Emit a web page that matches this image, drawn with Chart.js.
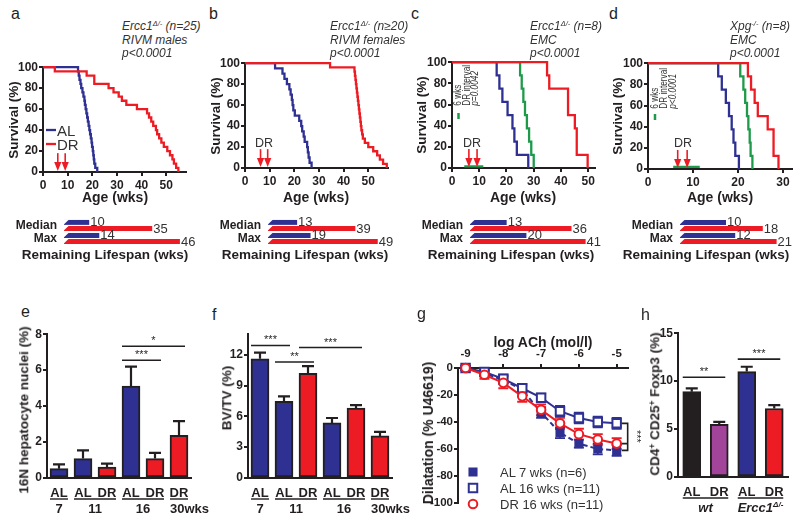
<!DOCTYPE html>
<html><head><meta charset="utf-8">
<script src="https://cdn.jsdelivr.net/npm/chart.js"></script>
<style>
html,body{margin:0;padding:0;background:#fff;}
body{width:800px;height:523px;position:relative;overflow:hidden;font-family:"Liberation Sans",Arial,sans-serif;color:#231f20;}
canvas{position:absolute;}
.t{position:absolute;white-space:nowrap;line-height:1;}
.t sup{font-size:62%;line-height:0;vertical-align:0.5em;}
</style></head><body>
<script>
// ================= DATA =================
const survTicksY = [0, 20, 40, 60, 80, 100];
const survTicksX50 = [0, 10, 20, 30, 40, 50];
const survTicksX30 = [0, 10, 20, 30];
const steps25 = [100,96,92,88,84,80,76,72,68,64,60,56,52,48,44,40,36,32,28,24,20,16,12,8,4,0];
const steps20 = [100,95,90,85,80,75,70,65,60,55,50,45,40,35,30,25,20,15,10,5,0];
const steps8  = [100,87.5,75,62.5,50,37.5,25,12.5,0];

// a: Ercc1 RIVM males
const aALWeeks = [0,14.2,14.5,14.8,15.2,15.5,16,16.4,16.8,17,17.3,17.6,17.9,18.2,18.5,18.8,19.1,19.4,19.7,19.9,20.2,20.4,20.6,20.8,21.2,22];
const aALSurv  = steps25;
const aDRWeeks = [0,4.8,17.7,20.8,20.8,26.6,28.6,30.7,32,33.8,38.1,42.2,43,43.9,44.7,45.8,46.3,47.1,48,49,50.4,51.5,52.5,53.1,54,54.9];
const aDRSurv  = steps25;
const aArrows  = [6, 9];
// b: Ercc1 RIVM females
const bALWeeks = [0,12.2,15.2,16,17,18,18.5,19,19.3,19.6,20.2,22,22.8,23.2,23.8,24.2,25.2,25.5,25.8,26.2,27];
const bALSurv  = steps20;
const bDRWeeks = [0,34.5,44.4,44.6,44.8,45,45.2,45.4,45.6,45.8,46,46.2,46.4,46.6,46.8,47,47.2,47.5,47.8,48.6,50,52,53.6,54.7,56,57.5];
const bDRSurv  = steps25;
const bArrows  = [6.3, 9.2];
// c: Ercc1 EMC
const cALWeeks = [0,16.4,17.4,18.5,20.4,22.2,22.9,23.8,28];
const cGRWeeks = [0,25,25.6,26.2,26.8,27.5,28.3,29.1,30];
const cDRWeeks = [0,34.9,35.7,42.6,42.6,45.1,45.8,45.8,49.8];
const cSurv    = steps8;
const cIntervalWeeks = [4.5, 11.5];
const cIntervalLevel = [1.5, 1.5];
const cArrows  = [6.2, 9.2];
// d: Xpg EMC
const dALWeeks = [0,15.6,16.4,17.3,18,18.6,19,19.4,20.2];
const dGRWeeks = [0,20.5,21.2,21.6,22,22.3,22.6,22.8,23.2];
const dDRWeeks = [0,22.2,22.9,23.7,24.4,26.6,27.9,27.9,29];
const dSurv    = steps8;
const dIntervalWeeks = [5.6, 11.5];
const dIntervalLevel = [2, 2];
const dArrows  = [6.6, 8.7];

// remaining lifespan (wks): [Median, Max]
const lifeCats = ['Median', 'Max'];
const aRemAL = [10, 14], aRemDR = [35, 46];
const bRemAL = [13, 19], bRemDR = [39, 49];
const cRemAL = [13, 20], cRemDR = [36, 41];
const dRemAL = [10, 12], dRemDR = [18, 21];

// e: 16N hepatocyte nuclei (%)
const eLabels = ['AL','AL','DR','AL','DR','DR'];
const eMeans  = [0.52, 1.08, 0.61, 5.12, 1.08, 2.38];
const eSEM    = [0.24, 0.46, 0.19, 1.08, 0.32, 0.78];
const eTicks  = [0, 2, 4, 6, 8];
const eGroups = ['7', '11', '16', '30wks'];
const eSpans  = [[0,0],[1,2],[3,4],[5,5]];
const eSig    = [[3,4,6.55,'***'],[3,5,7.33,'*']];
// f: BV/TV (%)
const fLabels = ['AL','AL','DR','AL','DR','DR'];
const fMeans  = [11.6, 7.47, 10.2, 5.36, 6.8, 4.1];
const fSEM    = [0.6, 0.48, 0.7, 0.48, 0.3, 0.4];
const fTicks  = [0, 3, 6, 9, 12];
const fGroups = ['7', '11', '16', '30wks'];
const fSpans  = [[0,0],[1,2],[3,4],[5,5]];
const fSig    = [[0,1,12.9,'***'],[1,2,11.3,'**'],[2,4,12.7,'***']];
// g: dilatation vs log ACh
const gDose    = [-9,-8.5,-8,-7.5,-7,-6.5,-6,-5.5,-5];
const gXTicks  = [-9,-8,-7,-6,-5];
const gYTicks  = [0,-20,-40,-60,-80,-100];
const gAL7     = [0,-4,-9,-16,-33,-48,-56,-60,-61];
const gAL7Err  = [1.5,2,3,3,4,4,3,4,4];
const gAL16    = [0,-3,-8,-15,-22,-32,-37,-40,-41];
const gAL16Err = [1.5,2,3,3,3,4,4,4,4];
const gDR16    = [0,-5,-11,-21,-31,-41,-49,-53,-56];
const gDR16Err = [1.5,3,4,4,4,4,4,4,4];
const gNames   = ['AL 7 wks (n=6)', 'AL 16 wks (n=11)', 'DR 16 wks (n=11)'];
// h: CD4+ CD25+ Foxp3 (%)
const hLabels = ['AL','DR','AL','DR'];
const hMeans  = [8.9, 5.5, 11.0, 7.15];
const hSEM    = [0.35, 0.25, 0.5, 0.35];
const hTicks  = [0, 5, 10, 15];
const hGroups = ['wt', 'Ercc1<sup>Δ/-</sup>'];
const hSpans  = [[0,1],[2,3]];
const hSig    = [[0,1,10.4,'**'],[2,3,12.3,'***']];

// ================= STYLE / HELPERS =================
const FONT = '"Liberation Sans", Arial, sans-serif';
const INK = '#231f20', GREY = '#333333';
const BLUE = '#2e3192', RED = '#ed1c24', GREEN = '#1e9a4a', PURPLE = '#a3449b';
Chart.defaults.font.family = FONT;
Chart.defaults.color = INK;

function txt(s, x, y, o = {}) {
  const d = document.createElement('div');
  d.className = 't';
  d.innerHTML = s;
  const size = o.size || 12;
  d.style.fontSize = size + 'px';
  d.style.fontWeight = o.bold ? 'bold' : 'normal';
  if (o.italic) d.style.fontStyle = 'italic';
  d.style.color = o.color || INK;
  if (o.rotStart) { // rotated -90, text starts at (x,y) and runs upward
    d.style.left = x + 'px'; d.style.top = (y - size / 2) + 'px';
    d.style.transformOrigin = '0 50%';
    d.style.transform = 'rotate(-90deg) scaleX(' + (o.sx || 1) + ')';
  } else {
    d.style.left = x + 'px'; d.style.top = y + 'px';
    if (o.rot) d.style.transform = `translate(-50%,-50%) rotate(${o.rot}deg)`;
    else {
      const ax = o.align === 'center' ? '-50%' : o.align === 'right' ? '-100%' : '0';
      d.style.transform = `translate(${ax},-50%)`;
    }
  }
  document.body.appendChild(d);
  return d;
}

function mkChart(area, m, config) {
  const c = document.createElement('canvas');
  const w = Math.round(area.r - area.l + m.l + m.r), h = Math.round(area.b - area.t + m.t + m.b);
  c.width = w; c.height = h;
  Object.assign(c.style, {left: (area.l - m.l) + 'px', top: (area.t - m.t) + 'px', width: w + 'px', height: h + 'px'});
  document.body.appendChild(c);
  config.options = Object.assign({responsive: false, maintainAspectRatio: false, animation: false, devicePixelRatio: 1, events: []}, config.options);
  return new Chart(c.getContext('2d'), config);
}

function tickGrid() { return {display: true, drawOnChartArea: false, drawTicks: true, tickLength: 4, color: INK, lineWidth: 2}; }
function border() { return {display: true, color: INK, width: 2}; }

function drawArrow(ctx, x, yTop, yTip) {
  ctx.strokeStyle = RED; ctx.fillStyle = RED; ctx.lineWidth = 1.6;
  ctx.beginPath(); ctx.moveTo(x, yTop); ctx.lineTo(x, yTip - 6); ctx.stroke();
  ctx.beginPath(); ctx.moveTo(x - 3.6, yTip - 9); ctx.lineTo(x + 3.6, yTip - 9); ctx.lineTo(x, yTip); ctx.closePath(); ctx.fill();
}

// ---------- survival panels ----------
function survival(o) {
  const m = {l: 40, t: 8, r: 12, b: 30};
  const datasets = o.series.map(s => ({
    data: s.w.map((w, i) => ({x: w, y: s.v[i]})),
    borderColor: s.c, borderWidth: 2.3, pointRadius: 0, stepped: s.flat ? false : true,
    fill: false, clip: 6
  }));
  const ox = o.area.l - m.l, oy = o.area.t - m.t;
  return mkChart(o.area, m, {
    type: 'line',
    data: {datasets},
    options: {
      layout: {padding: {top: m.t, right: m.r, left: 0, bottom: 0}},
      plugins: {legend: {display: false}, tooltip: {enabled: false}},
      scales: {
        x: {type: 'linear', min: 0, max: o.xMax,
            afterBuildTicks: s => { s.ticks = o.xTicks.map(v => ({value: v})); },
            afterFit: s => { s.height = m.b; },
            grid: tickGrid(), border: border(),
            ticks: {font: {family: FONT, size: 12, weight: 'bold'}, color: INK, padding: 2, autoSkip: false, maxRotation: 0}},
        y: {type: 'linear', min: 0, max: 100,
            afterBuildTicks: s => { s.ticks = survTicksY.map(v => ({value: v})); },
            afterFit: s => { s.width = m.l; },
            grid: tickGrid(), border: border(),
            ticks: {font: {family: FONT, size: 12, weight: 'bold'}, color: INK, padding: 1}}
      }
    },
    plugins: [{id: 'surv', afterDatasetsDraw(chart) {
      const ctx = chart.ctx, xs = chart.scales.x, ys = chart.scales.y;
      ctx.save();
      o.arrows.forEach(w => drawArrow(ctx, xs.getPixelForValue(w), ys.getPixelForValue(18), ys.getPixelForValue(1)));
      (o.marks || []).forEach(k => {
        ctx.strokeStyle = k.c; ctx.lineWidth = k.w || 2.3;
        ctx.beginPath(); ctx.moveTo(k.x1 - ox, k.y1 - oy); ctx.lineTo(k.x2 - ox, k.y2 - oy); ctx.stroke();
      });
      ctx.restore();
    }}]
  });
}

// ---------- remaining lifespan ----------
function lifespan(area, xMax, al, dr) {
  const m = {l: 70, t: 18, r: 26, b: 18};
  return mkChart(area, m, {
    type: 'bar',
    data: {labels: lifeCats, datasets: [
      {data: al, backgroundColor: BLUE, barPercentage: 0.8, categoryPercentage: 0.95},
      {data: dr, backgroundColor: RED, barPercentage: 0.8, categoryPercentage: 0.95}
    ]},
    options: {
      indexAxis: 'y',
      layout: {padding: {top: m.t, right: m.r, left: 0, bottom: m.b}},
      plugins: {legend: {display: false}, tooltip: {enabled: false}},
      scales: {
        x: {display: false, min: 0, max: xMax},
        y: {grid: {display: false, drawTicks: false}, border: {display: false},
            afterFit: s => { s.width = m.l; },
            ticks: {font: {family: FONT, size: 12, weight: 'bold'}, color: INK, padding: 7, autoSkip: false}}
      }
    },
    plugins: [{id: 'life', afterDatasetsDraw(chart) {
      const ctx = chart.ctx;
      ctx.save();
      chart.data.datasets.forEach((ds, di) => {
        chart.getDatasetMeta(di).data.forEach((el, i) => {
          const top = el.y - el.height / 2, bot = el.y + el.height / 2;
          ctx.fillStyle = '#fff';
          ctx.beginPath(); ctx.moveTo(el.base - 1, top - 0.5); ctx.lineTo(el.base + 5, top - 0.5); ctx.lineTo(el.base - 1, bot + 0.3); ctx.closePath(); ctx.fill();
          ctx.fillStyle = GREY; ctx.font = '13px ' + FONT; ctx.textBaseline = 'middle'; ctx.textAlign = 'left';
          ctx.fillText(String(ds.data[i]), el.x + 1, el.y + 0.5);
        });
      });
      ctx.restore();
    }}]
  });
}

// ---------- bar panels e, f, h ----------
function barPanel(o) {
  const m = {l: 36, t: 8, r: 6, b: 40};
  const ch = mkChart(o.area, m, {
    type: 'bar',
    data: {labels: o.labels, datasets: [{data: o.means, backgroundColor: o.colors, borderColor: INK, borderWidth: 2, borderSkipped: false, barThickness: 18}]},
    options: {
      layout: {padding: {top: m.t, right: m.r, left: 0, bottom: 0}},
      plugins: {legend: {display: false}, tooltip: {enabled: false}},
      scales: {
        x: {grid: {display: false, drawTicks: false}, border: border(),
            afterFit: s => { s.height = m.b; },
            ticks: {font: {family: FONT, size: 13, weight: 'bold'}, color: INK, padding: 8, autoSkip: false, maxRotation: 0}},
        y: {min: 0, max: o.yMax,
            afterBuildTicks: s => { s.ticks = o.yTicks.map(v => ({value: v})); },
            afterFit: s => { s.width = m.l; },
            grid: tickGrid(), border: border(),
            ticks: {font: {family: FONT, size: 12, weight: 'bold'}, color: INK, padding: 1}}
      }
    },
    plugins: [{id: 'errsig', afterDatasetsDraw(chart) {
      const ctx = chart.ctx, ys = chart.scales.y, meta = chart.getDatasetMeta(0);
      ctx.save();
      ctx.strokeStyle = INK; ctx.lineWidth = 2.2;
      meta.data.forEach((el, i) => {
        const y1 = ys.getPixelForValue(o.means[i] + o.sem[i]);
        ctx.beginPath(); ctx.moveTo(el.x, el.y); ctx.lineTo(el.x, y1);
        ctx.moveTo(el.x - 6, y1); ctx.lineTo(el.x + 6, y1); ctx.stroke();
      });
      ctx.lineWidth = 1.6;
      o.sig.forEach(([a, b, v, s]) => {
        const x1 = meta.data[a].x - 9, x2 = meta.data[b].x + 6, y = ys.getPixelForValue(v);
        ctx.beginPath(); ctx.moveTo(x1, y); ctx.lineTo(x2, y); ctx.stroke();
        ctx.fillStyle = INK; ctx.font = '11px ' + FONT; ctx.textAlign = 'center'; ctx.textBaseline = 'alphabetic';
        ctx.fillText(s, (x1 + x2) / 2, y - 2);
      });
      // group underlines
      const yb = chart.chartArea.bottom + 21;
      ctx.lineWidth = 1.4;
      o.spans.forEach(([a, b]) => {
        ctx.beginPath(); ctx.moveTo(meta.data[a].x - 9, yb); ctx.lineTo(meta.data[b].x + 9, yb); ctx.stroke();
      });
      ctx.restore();
    }}]
  });
  const meta = ch.getDatasetMeta(0);
  const ox = o.area.l - m.l;
  o.groups.forEach((g, i) => {
    const [a, b] = o.spans[i];
    if (o.groupAlign && o.groupAlign[i] === 'l') {
      txt(g, meta.data[a].x - 9 + ox, o.area.b + 30, {size: 13, bold: true, italic: o.italicGroups});
    } else {
      txt(g, (meta.data[a].x + meta.data[b].x) / 2 + ox, o.area.b + 30, {size: 13, bold: true, italic: o.italicGroups, align: 'center'});
    }
  });
  return ch;
}

// ================= BUILD =================
// --- panel a ---
const aArea = {l: 43, t: 67, r: 186, b: 172};
survival({area: aArea, xMax: 58, xTicks: survTicksX50, arrows: aArrows,
  series: [{w: aDRWeeks, v: aDRSurv, c: RED}, {w: aALWeeks, v: aALSurv, c: BLUE}],
  marks: [{x1: 46, y1: 130, x2: 56, y2: 130, c: BLUE}, {x1: 46, y1: 144, x2: 56, y2: 144, c: RED}]});
// --- panel b ---
const bArea = {l: 245, t: 63, r: 388, b: 168};
survival({area: bArea, xMax: 58, xTicks: survTicksX50, arrows: bArrows,
  series: [{w: bDRWeeks, v: bDRSurv, c: RED}, {w: bALWeeks, v: bALSurv, c: BLUE}]});
// --- panel c ---
const cArea = {l: 452, t: 62, r: 595, b: 168};
survival({area: cArea, xMax: 52.5, xTicks: survTicksX50, arrows: cArrows,
  series: [{w: cDRWeeks, v: cSurv, c: RED}, {w: cGRWeeks, v: cSurv, c: GREEN}, {w: cALWeeks, v: cSurv, c: BLUE},
           {w: cIntervalWeeks, v: cIntervalLevel, c: GREEN, flat: true}],
  marks: [{x1: 458.5, y1: 113, x2: 458.5, y2: 119, c: GREEN, w: 2.5}]});
// --- panel d ---
const dArea = {l: 648, t: 63, r: 792, b: 169};
survival({area: dArea, xMax: 32, xTicks: survTicksX30, arrows: dArrows,
  series: [{w: dDRWeeks, v: dSurv, c: RED}, {w: dGRWeeks, v: dSurv, c: GREEN}, {w: dALWeeks, v: dSurv, c: BLUE},
           {w: dIntervalWeeks, v: dIntervalLevel, c: GREEN, flat: true}],
  marks: [{x1: 655, y1: 114, x2: 655, y2: 120, c: GREEN, w: 2.5}]});

// --- lifespan bars ---
lifespan({l: 64, t: 219, r: 190, b: 245}, 50, aRemAL, aRemDR);
lifespan({l: 268, t: 219, r: 380, b: 245}, 50, bRemAL, bRemDR);
lifespan({l: 470, t: 219, r: 611, b: 245}, 50, cRemAL, cRemDR);
lifespan({l: 680, t: 219, r: 795, b: 245}, 25, dRemAL, dRemDR);

// --- e ---
barPanel({area: {l: 47, t: 334, r: 191, b: 478}, yMax: 8, yTicks: eTicks, labels: eLabels, means: eMeans, sem: eSEM,
  colors: eLabels.map(l => l === 'AL' ? BLUE : RED), sig: eSig, groups: eGroups, spans: eSpans, groupAlign: ['c','c','c','l']});
// --- f ---
barPanel({area: {l: 248, t: 334, r: 392, b: 478}, yMax: 14, yTicks: fTicks, labels: fLabels, means: fMeans, sem: fSEM,
  colors: fLabels.map(l => l === 'AL' ? BLUE : RED), sig: fSig, groups: fGroups, spans: fSpans, groupAlign: ['c','c','c','l']});
// --- h ---
barPanel({area: {l: 678, t: 333, r: 788, b: 477}, yMax: 15, yTicks: hTicks, labels: hLabels, means: hMeans, sem: hSEM,
  colors: [INK, PURPLE, BLUE, RED], sig: hSig, groups: hGroups, spans: hSpans, italicGroups: true});

// --- g ---
(function () {
  const area = {l: 458, t: 368, r: 628, b: 503};
  const m = {l: 40, t: 26, r: 24, b: 12};
  const ox = area.l - m.l, oy = area.t - m.t;
  const series = [
    {v: gAL7, e: gAL7Err, c: BLUE, dash: [5, 3], ps: 'rect', r: 5, fill: BLUE, order: 2},
    {v: gAL16, e: gAL16Err, c: BLUE, dash: [], ps: 'rect', r: 6, fill: '#fff', order: 1},
    {v: gDR16, e: gDR16Err, c: RED, dash: [], ps: 'circle', r: 4.3, fill: '#fff', order: 0}
  ];
  mkChart(area, m, {
    type: 'line',
    data: {datasets: series.map((s, k) => ({
      label: gNames[k], data: gDose.map((x, i) => ({x, y: s.v[i]})),
      borderColor: s.c, borderWidth: 2, borderDash: s.dash, pointStyle: s.ps, pointRadius: s.r,
      pointBackgroundColor: s.fill, pointBorderColor: s.c, pointBorderWidth: 2, clip: false, order: s.order, tension: 0
    }))},
    options: {
      layout: {padding: {top: 0, right: m.r, left: 0, bottom: m.b}},
      plugins: {legend: {display: false}, tooltip: {enabled: false}},
      scales: {
        x: {type: 'linear', position: 'top', min: -9.2, max: -4.7,
            afterBuildTicks: s => { s.ticks = gXTicks.map(v => ({value: v})); },
            afterFit: s => { s.height = m.t; },
            grid: tickGrid(), border: border(),
            ticks: {font: {family: FONT, size: 11.5, weight: 'bold'}, color: INK, padding: 3, autoSkip: false, maxRotation: 0}},
        y: {type: 'linear', min: -100, max: 0,
            afterBuildTicks: s => { s.ticks = gYTicks.map(v => ({value: v})); },
            afterFit: s => { s.width = m.l; },
            grid: tickGrid(), border: border(),
            ticks: {font: {family: FONT, size: 11.5, weight: 'bold'}, color: INK, padding: 1}}
      }
    },
    plugins: [{id: 'gextra',
      beforeDatasetsDraw(chart) {
        const ctx = chart.ctx, xs = chart.scales.x, ys = chart.scales.y;
        ctx.save(); ctx.lineWidth = 1.8;
        series.forEach(s => {
          ctx.strokeStyle = s.c;
          gDose.forEach((x, i) => {
            const px = xs.getPixelForValue(x), y1 = ys.getPixelForValue(s.v[i] + s.e[i]), y2 = ys.getPixelForValue(s.v[i] - s.e[i]);
            ctx.beginPath(); ctx.moveTo(px, y1); ctx.lineTo(px, y2);
            ctx.moveTo(px - 5, y1); ctx.lineTo(px + 5, y1); ctx.moveTo(px - 5, y2); ctx.lineTo(px + 5, y2); ctx.stroke();
          });
        });
        ctx.restore();
      },
      afterDraw(chart) {
        const ctx = chart.ctx, xs = chart.scales.x, ys = chart.scales.y;
        ctx.save();
        // bracket
        const last = gDose.length - 1;
        const xb = xs.getPixelForValue(gDose[last]) + 11;
        const yT = ys.getPixelForValue(gAL16[last]), yM = ys.getPixelForValue(gDR16[last]), yB = ys.getPixelForValue(gAL7[last]);
        ctx.strokeStyle = INK; ctx.lineWidth = 1.6;
        ctx.beginPath();
        ctx.moveTo(xb - 6, yT); ctx.lineTo(xb, yT); ctx.lineTo(xb, yB); ctx.lineTo(xb - 6, yB);
        ctx.moveTo(xb - 6, yM); ctx.lineTo(xb, yM); ctx.stroke();
        ctx.translate(xb + 8, (yT + yM) / 2 + 3);
        ctx.rotate(Math.PI / 2);
        ctx.fillStyle = INK; ctx.font = '11px ' + FONT; ctx.textAlign = 'center'; ctx.textBaseline = 'middle';
        ctx.fillText('***', 0, 0);
        ctx.restore();
        // legend markers
        ctx.save();
        const ly = [472, 488, 504];
        series.forEach((s, k) => {
          const x = 473 - ox, y = ly[k] - oy;
          ctx.strokeStyle = s.c; ctx.fillStyle = s.fill; ctx.lineWidth = 2;
          ctx.beginPath();
          if (s.ps === 'rect') { const h = s.r * Math.SQRT1_2; ctx.rect(x - h, y - h, 2 * h, 2 * h); }
          else ctx.arc(x, y, s.r, 0, Math.PI * 2);
          ctx.fill(); ctx.stroke();
        });
        ctx.restore();
      }
    }]
  });
  gNames.forEach((n, k) => txt(n, 500, [472, 488, 504][k], {size: 13, color: GREY}));
})();

// ================= TEXT =================
// panel letters
txt('a', 11, 14, {size: 16}); txt('b', 209, 14, {size: 16}); txt('c', 411, 14, {size: 16}); txt('d', 609, 14, {size: 16});
txt('e', 21, 312, {size: 16}); txt('f', 212, 315, {size: 16}); txt('g', 417, 314, {size: 16}); txt('h', 641, 315, {size: 16});

// annotations
const ann = [
  [122, ['Ercc1<sup>Δ/-</sup> (n=25)', 'RIVM males', 'p&lt;0.0001']],
  [330, ['Ercc1<sup>Δ/-</sup> (n≥20)', 'RIVM females', 'p&lt;0.0001']],
  [530, ['Ercc1<sup>Δ/-</sup> (n=8)', 'EMC', 'p&lt;0.0001']],
  [730, ['Xpg<sup>-/-</sup> (n=8)', 'EMC', 'p&lt;0.0001']]
];
ann.forEach(([x, lines]) => lines.forEach((s, i) => txt(s, x, [26, 40, 53][i], {size: 12, italic: true, color: GREY})));

// survival axis titles
[[14, 119.5], [216, 115.5], [422, 115], [618, 116]].forEach(([x, y]) => txt('Survival (%)', x, y, {size: 13.5, bold: true, rot: -90}));
[115, 316, 523, 720].forEach(x => txt('Age (wks)', x, 197, {size: 14, bold: true, align: 'center'}));

// legend a, DR labels
txt('AL', 57, 130, {size: 15, color: GREY}); txt('DR', 57, 144, {size: 15, color: GREY});
txt('DR', 264, 143, {size: 12.5, color: GREY, align: 'center'});
txt('DR', 472, 143, {size: 12.5, color: GREY, align: 'center'});
txt('DR', 683, 143, {size: 12.5, color: GREY, align: 'center'});

// rotated legends c, d
[[458, '6 wks'], [466.5, 'DR interval'], [475, 'p=0.0042']].forEach(([x, s]) => txt(s, x, 106, {size: 11.5, color: GREY, rotStart: true, sx: 0.72, italic: s.startsWith('p')}));
[[654.5, '6 wks'], [663.5, 'DR interval'], [672.5, 'p&lt;0.0001']].forEach(([x, s]) => txt(s, x, 109, {size: 11.5, color: GREY, rotStart: true, sx: 0.72, italic: s.startsWith('p')}));

// lifespan titles
[105, 305, 511, 706].forEach(x => txt('Remaining Lifespan (wks)', x, 255, {size: 13.5, bold: true, align: 'center'}));

// lower axis titles
txt('16N hepatocyte nuclei (%)', 24, 410, {size: 13.5, bold: true, rot: -90});
txt('BV/TV (%)', 227, 398, {size: 13.5, bold: true, rot: -90});
txt('Dilatation (% U46619)', 428, 433, {size: 14, bold: true, rot: -90});
txt('log ACh (mol/l)', 543, 342, {size: 14, bold: true, align: 'center'});
txt('CD4<sup>+</sup> CD25<sup>+</sup> Foxp3 (%)', 655, 404, {size: 13.5, bold: true, rot: -90});
</script>
</body></html>
